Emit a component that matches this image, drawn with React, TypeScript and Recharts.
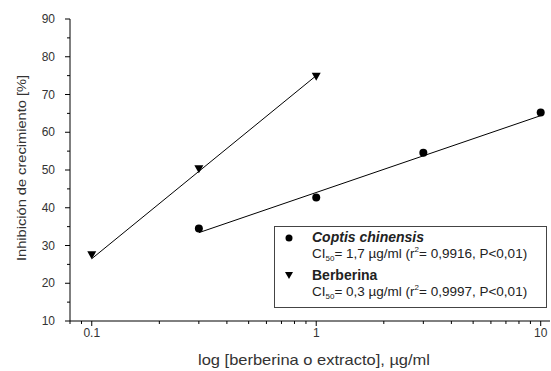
import { ComposedChart, Scatter, XAxis, YAxis, Legend } from "recharts"

const coptisX = [0.3, 1, 3, 10]
const coptisY = [34.5, 42.7, 54.6, 65.2]
const berberinaX = [0.1, 0.3, 1]
const berberinaY = [27.4, 50.2, 74.7]

// regression lines (end points)
const coptisFitX = [0.3, 10]
const coptisFitY = [33.4, 64.4]
const berberinaFitX = [0.1, 1]
const berberinaFitY = [26.5, 75]

const xTicks = [0.08, 0.09, 0.1, 0.2, 0.3, 0.4, 0.5, 0.6, 0.7, 0.8, 0.9, 1, 2, 3, 4, 5, 6, 7, 8, 9, 10]
const xLabels = [0.1, 1, 10]
const yTicks = [10, 15, 20, 25, 30, 35, 40, 45, 50, 55, 60, 65, 70, 75, 80, 85, 90]

const toPoints = (xs: number[], ys: number[]) => xs.map((x, i) => ({ x, y: ys[i] }))

const coptis = toPoints(coptisX, coptisY)
const berberina = toPoints(berberinaX, berberinaY)
const coptisFit = toPoints(coptisFitX, coptisFitY)
const berberinaFit = toPoints(berberinaFitX, berberinaFitY)

const FONT = "'Liberation Sans', Arial, sans-serif"
const TEXT = "#333"

const XTick = (props: any) => {
  const { x, y, payload } = props
  const major = xLabels.includes(payload.value)
  return (
    <g>
      <line x1={x} x2={x} y1={y} y2={y + (major ? 5 : 3)} stroke="#000" />
      {major && (
        <text x={x} y={y + 16} textAnchor="middle" fontSize={12} fill={TEXT} fontFamily={FONT}>
          {payload.value}
        </text>
      )}
    </g>
  )
}

const YTick = (props: any) => {
  const { x, y, payload } = props
  const major = payload.value % 10 === 0
  return (
    <g>
      <line x1={x - (major ? 5 : 3)} x2={x} y1={y} y2={y} stroke="#000" />
      {major && (
        <text x={x - 15} y={y + 4} textAnchor="end" fontSize={12} fill={TEXT} fontFamily={FONT}>
          {payload.value}
        </text>
      )}
    </g>
  )
}

const Dot = ({ cx, cy }: any) => <circle cx={cx} cy={cy} r={4} fill="#000" />
const Tri = ({ cx, cy }: any) => (
  <polygon points={`${cx - 4.5},${cy - 4} ${cx + 4.5},${cy - 4} ${cx},${cy + 4}`} fill="#000" />
)
const Nothing = () => <g />

const YLabel = () => (
  <text
    x={23}
    y={168}
    transform="rotate(-90 23 168)"
    textAnchor="middle"
    dominantBaseline="middle"
    fontSize={13}
    fill={TEXT}
    fontFamily={FONT}
    textLength={186}
    lengthAdjust="spacingAndGlyphs"
  >
    Inhibición de crecimiento [%]
  </text>
)

const XLabel = () => (
  <text
    x={314}
    y={365}
    textAnchor="middle"
    fontSize={15}
    fill={TEXT}
    fontFamily={FONT}
    textLength={232}
    lengthAdjust="spacingAndGlyphs"
  >
    log [berberina o extracto], µg/ml
  </text>
)

const LegendBox = () => (
  <div
    style={{
      width: 271,
      height: 80,
      border: "1px solid #444",
      background: "#fff",
      fontFamily: FONT,
      color: "#222",
      fontSize: 13.5,
      position: "relative",
    }}
  >
    <svg width={20} height={80} style={{ position: "absolute", left: 8, top: 0 }}>
      <circle cx={6} cy={11} r={3.5} fill="#000" />
      <polygon points="2,45 10,45 6,52" fill="#000" />
    </svg>
    <div style={{ position: "absolute", left: 37, top: 2, fontWeight: "bold", fontStyle: "italic", fontSize: 14 }}>
      Coptis chinensis
    </div>
    <div style={{ position: "absolute", left: 37, top: 18 }}>
      CI<sub style={{ fontSize: 8 }}>50</sub>= 1,7 µg/ml (r<sup style={{ fontSize: 8 }}>2</sup>= 0,9916, P&lt;0,01)
    </div>
    <div style={{ position: "absolute", left: 37, top: 40, fontWeight: "bold", fontSize: 14 }}>Berberina</div>
    <div style={{ position: "absolute", left: 37, top: 56 }}>
      CI<sub style={{ fontSize: 8 }}>50</sub>= 0,3 µg/ml (r<sup style={{ fontSize: 8 }}>2</sup>= 0,9997, P&lt;0,01)
    </div>
  </div>
)

export default function App() {
  return (
    <div style={{ position: "absolute", left: 0, top: 0, background: "#fff" }}>
      <ComposedChart width={551} height={371} margin={{ top: 19, right: 1, bottom: 0, left: 0 }}>
        <XAxis
          dataKey="x"
          type="number"
          scale="log"
          domain={[0.08, 11]}
          allowDataOverflow
          ticks={xTicks}
          interval={0}
          tickSize={0}
          tickMargin={0}
          tickLine={false}
          tick={XTick}
          height={50}
          axisLine={{ stroke: "#000" }}
          label={{ content: XLabel }}
        />
        <YAxis
          dataKey="y"
          type="number"
          domain={[10, 90]}
          ticks={yTicks}
          interval={0}
          tickSize={0}
          tickMargin={0}
          tickLine={false}
          tick={YTick}
          width={70}
          axisLine={{ stroke: "#000" }}
          label={{ content: YLabel }}
        />
        <Scatter
          data={berberinaFit}
          line={{ stroke: "#000", strokeWidth: 1 }}
          shape={Nothing}
          isAnimationActive={false}
          legendType="none"
        />
        <Scatter
          data={coptisFit}
          line={{ stroke: "#000", strokeWidth: 1 }}
          shape={Nothing}
          isAnimationActive={false}
          legendType="none"
        />
        <Scatter data={coptis} shape={Dot} isAnimationActive={false} />
        <Scatter data={berberina} shape={Tri} isAnimationActive={false} />
        <Legend
          layout="horizontal"
          verticalAlign="middle"
          content={LegendBox}
          wrapperStyle={{ left: 274, top: 226, width: 273, height: 82 }}
        />
      </ComposedChart>
    </div>
  )
}
